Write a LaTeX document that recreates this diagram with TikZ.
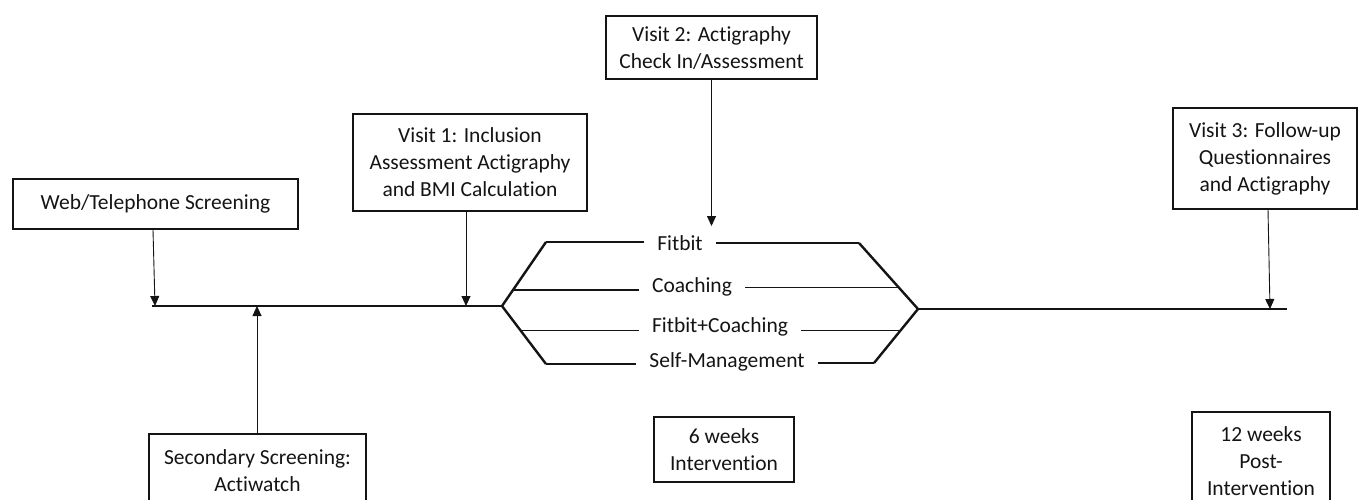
\documentclass[tikz,border=0pt]{standalone}
\usepackage{fontspec}
\setmainfont[Ligatures=NoCommon]{Carlito}
\usepackage{xcolor}
\definecolor{ink}{RGB}{20, 20, 20}
\usepackage{tikz}
\usetikzlibrary{
  arrows.meta, positioning, calc
}

\begin{document}
\begin{tikzpicture}[x=1pt, y=-1pt,
    font=\fontsize{21.5}{27}\selectfont, color=ink,
    stagebox/.style={draw=ink, line width=1.4pt, align=center, inner sep=0pt},
    pointer/.style={line width=0.9pt, -{Triangle[width=9pt, length=10pt]}},
    timeline/.style={line width=2.4pt},
    branch/.style={line width=1.1pt},
    armlabel/.style={inner xsep=13pt, inner ysep=0pt}
  ]
    \clip (0,0) rectangle (1359,499);

    % boxes along the timeline
    \node[stagebox, minimum width=285pt, minimum height=50pt] (web) at (155.5,204) {Web/Telephone Screening};
    \node[stagebox, minimum width=234pt, minimum height=97pt] (visitone) at (470,162.5)
      {Visit 1: Inclusion\\Assessment Actigraphy\\and BMI Calculation};
    \node[stagebox, minimum width=211pt, minimum height=63pt] (visittwo) at (711.5,47.5)
      {Visit 2: Actigraphy\\Check In/Assessment};
    \node[stagebox, minimum width=184pt, minimum height=101pt] (visitthree) at (1265,158.5)
      {Visit 3: Follow-up\\Questionnaires\\and Actigraphy};
    \node[stagebox, minimum width=217pt, minimum height=74pt] (secondary) at (257.5,471)
      {Secondary Screening:\\Actiwatch};
    \node[stagebox, minimum width=140pt, minimum height=65pt] (sixweeks) at (724,449.5)
      {6 weeks\\Intervention};
    \node[stagebox, minimum width=138pt, minimum height=98pt] (twelveweeks) at (1261,461)
      {12 weeks\\Post-\\Intervention};

    % timeline and the split into four arms
    \coordinate (start) at (152,306);
    \coordinate (split) at (502,306);
    \coordinate (armtop) at (546,242);
    \coordinate (armbot) at (546,364);
    \coordinate (jointop) at (859,243);
    \coordinate (join) at (918,309);
    \coordinate (joinbot) at (874,363);
    \coordinate (finish) at (1287,309);

    \draw[timeline] (start) -- (split);
    \draw[timeline] (join) -- (finish);
    \draw[timeline] (armtop) -- coordinate[pos=0.75] (lcoach) (split)
      -- coordinate[pos=0.42] (lboth) (armbot);
    \draw[timeline] (jointop) -- coordinate[pos=0.67] (rcoach) (join)
      -- coordinate[pos=0.4] (rboth) (joinbot);

    \node[armlabel] (fitbit) at (680,243) {Fitbit};
    \node[armlabel] (coaching) at (692,287) {Coaching};
    \node[armlabel] (fitcoach) at (720,327) {Fitbit+Coaching};
    \node[armlabel] (selfman) at (727,362) {Self-Management};

    \draw[branch] (armtop) -- (fitbit.west |- armtop);
    \draw[branch] (fitbit.east |- jointop) -- (jointop);
    \draw[branch] (lcoach) -- (coaching.west |- lcoach);
    \draw[branch] (coaching.east |- rcoach) -- (rcoach);
    \draw[branch] (lboth) -- (fitcoach.west |- lboth);
    \draw[branch] (fitcoach.east |- rboth) -- (rboth);
    \draw[branch] (armbot) -- (selfman.west |- armbot);
    \draw[branch] (selfman.east |- joinbot) -- (joinbot);

    % arrows onto the timeline
    \draw[pointer] (web.south -| start) ++(1,0) -- ([xshift=3pt]start);
    \draw[pointer] (visitone.south -| 466,0) -- (466,306);
    \draw[pointer] (visittwo.south) -- (711.5,226);
    \draw[pointer] (visitthree.south -| 1268,0) -- (1270,309);
    \draw[pointer] (secondary.north -| 257,0) -- (257,306);
\end{tikzpicture}
\end{document}
